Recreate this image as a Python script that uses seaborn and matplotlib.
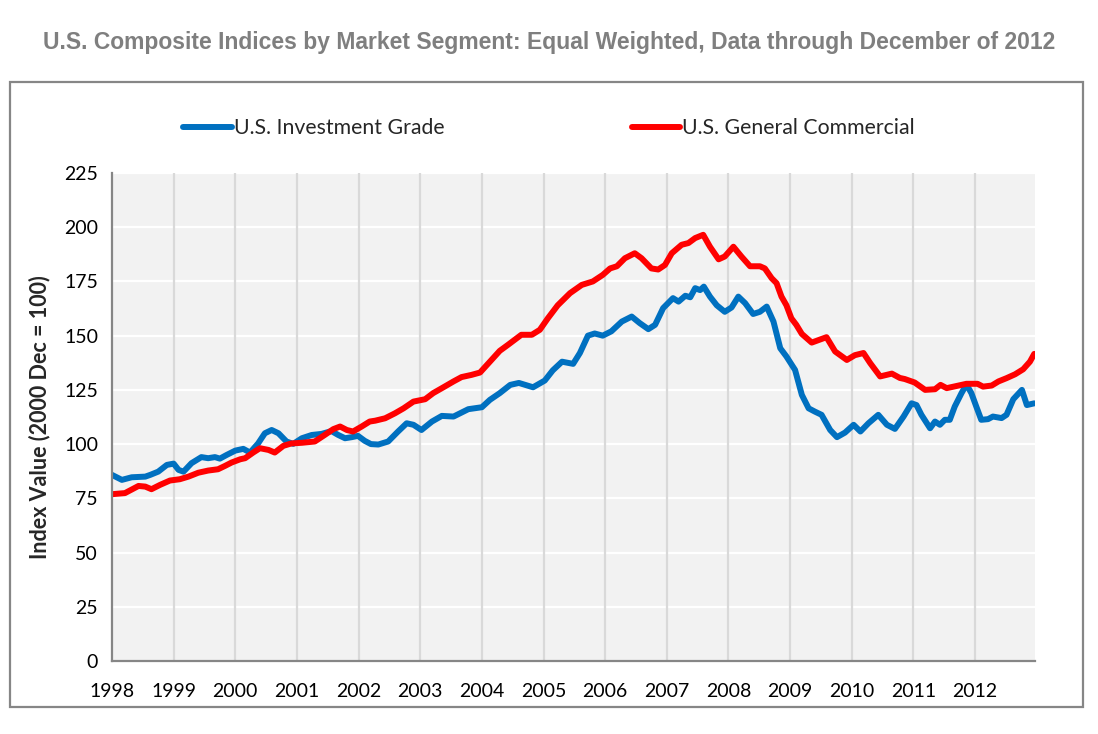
import numpy as np
import pandas as pd
import matplotlib
matplotlib.use("Agg")
import matplotlib.pyplot as plt
from matplotlib.patches import Rectangle
import seaborn as sns

# values (decimal year, index value)
ig_year = [1998.00, 1998.16, 1998.32, 1998.54, 1998.62, 1998.75, 1998.89, 1999.00, 1999.08, 1999.16,
           1999.29, 1999.45, 1999.56, 1999.67, 1999.75, 1999.86, 2000.00, 2000.13, 2000.24, 2000.37,
           2000.48, 2000.59, 2000.70, 2000.83, 2000.94, 2001.08, 2001.24, 2001.40, 2001.56, 2001.67,
           2001.78, 2001.89, 2001.99, 2002.10, 2002.20, 2002.32, 2002.48, 2002.64, 2002.78, 2002.89,
           2003.02, 2003.19, 2003.35, 2003.54, 2003.78, 2004.00, 2004.13, 2004.29, 2004.46, 2004.60,
           2004.83, 2005.02, 2005.15, 2005.30, 2005.48, 2005.59, 2005.72, 2005.83, 2005.96, 2006.10,
           2006.27, 2006.43, 2006.56, 2006.70, 2006.81, 2006.94, 2007.10, 2007.19, 2007.30, 2007.38,
           2007.46, 2007.54, 2007.60, 2007.70, 2007.81, 2007.94, 2008.05, 2008.16, 2008.27, 2008.40,
           2008.51, 2008.62, 2008.73, 2008.84, 2008.94, 2009.08, 2009.19, 2009.30, 2009.40, 2009.51,
           2009.65, 2009.76, 2009.89, 2010.03, 2010.14, 2010.27, 2010.43, 2010.57, 2010.70, 2010.84,
           2010.97, 2011.05, 2011.13, 2011.27, 2011.35, 2011.43, 2011.51, 2011.59, 2011.67, 2011.78,
           2011.86, 2011.94, 2012.02, 2012.10, 2012.21, 2012.29, 2012.43, 2012.51, 2012.62, 2012.76,
           2012.84, 2012.96]
ig_value = [85.8, 83.5, 84.7, 85.0, 85.8, 87.3, 90.4, 91.0, 88.1, 87.3,
            91.2, 94.0, 93.5, 94.0, 93.3, 95.0, 97.0, 97.8, 96.1, 100.3,
            105.0, 106.5, 105.0, 101.2, 100.1, 102.7, 104.2, 104.7, 106.0, 104.2,
            102.7, 103.2, 103.8, 101.5, 100.0, 99.8, 101.2, 105.8, 109.6, 108.9,
            106.5, 110.4, 113.0, 112.7, 116.1, 117.0, 120.4, 123.5, 127.3, 128.2,
            126.2, 129.3, 134.0, 138.0, 137.0, 142.0, 150.0, 151.0, 150.0, 152.0,
            156.5, 158.8, 155.8, 153.0, 155.0, 162.7, 167.3, 165.7, 168.4, 167.7,
            171.9, 171.0, 172.6, 168.0, 164.0, 161.0, 163.0, 168.0, 165.0, 160.0,
            161.0, 163.4, 156.5, 144.2, 140.4, 134.2, 122.7, 116.5, 115.0, 113.5,
            106.5, 103.2, 105.3, 108.9, 105.8, 109.6, 113.5, 108.9, 107.0, 112.7,
            118.8, 118.0, 113.5, 107.3, 110.4, 108.9, 111.2, 111.2, 117.3, 123.5,
            127.5, 123.5, 117.3, 111.2, 111.5, 112.7, 112.0, 113.5, 120.7, 125.0,
            118.0, 118.8]

gc_year = [1998.00, 1998.21, 1998.43, 1998.54, 1998.64, 1998.78, 1998.94, 1999.10, 1999.24, 1999.40,
           1999.56, 1999.72, 1999.83, 1999.94, 2000.08, 2000.16, 2000.29, 2000.40, 2000.54, 2000.64,
           2000.78, 2000.91, 2001.08, 2001.29, 2001.45, 2001.59, 2001.70, 2001.81, 2001.91, 2002.05,
           2002.18, 2002.27, 2002.43, 2002.59, 2002.73, 2002.89, 2003.08, 2003.21, 2003.37, 2003.54,
           2003.67, 2003.83, 2003.97, 2004.13, 2004.29, 2004.42, 2004.64, 2004.81, 2004.94, 2005.07,
           2005.23, 2005.43, 2005.62, 2005.80, 2005.96, 2006.08, 2006.19, 2006.32, 2006.48, 2006.59,
           2006.75, 2006.86, 2006.97, 2007.08, 2007.24, 2007.35, 2007.46, 2007.59, 2007.70, 2007.84,
           2007.94, 2008.08, 2008.21, 2008.35, 2008.51, 2008.59, 2008.70, 2008.78, 2008.86, 2008.94,
           2009.02, 2009.10, 2009.19, 2009.35, 2009.59, 2009.73, 2009.92, 2010.05, 2010.19, 2010.30,
           2010.46, 2010.65, 2010.78, 2010.86, 2011.02, 2011.19, 2011.35, 2011.44, 2011.54, 2011.70,
           2011.86, 2012.04, 2012.13, 2012.27, 2012.38, 2012.51, 2012.65, 2012.78, 2012.89, 2012.96]
gc_value = [76.9, 77.4, 80.7, 80.4, 79.2, 81.2, 83.2, 83.8, 85.0, 86.8,
            87.8, 88.4, 89.9, 91.5, 93.0, 93.5, 96.1, 98.1, 97.3, 96.1,
            99.2, 100.3, 100.6, 101.2, 104.2, 106.9, 108.1, 106.5, 105.8, 108.1,
            110.4, 110.8, 111.9, 114.2, 116.5, 119.6, 120.7, 123.5, 126.1, 128.9,
            130.9, 131.9, 133.0, 138.0, 143.0, 145.7, 150.4, 150.4, 152.7, 158.0,
            164.0, 169.6, 173.4, 175.0, 178.0, 181.0, 182.0, 185.7, 188.0, 185.7,
            181.0, 180.5, 182.6, 188.0, 191.9, 192.7, 195.0, 196.5, 191.0, 185.2,
            186.5, 191.0, 186.5, 182.0, 182.0, 181.0, 176.5, 174.2, 168.0, 164.0,
            158.0, 155.0, 150.8, 146.8, 149.3, 142.7, 138.8, 141.0, 142.0, 137.3,
            131.2, 132.5, 130.5, 130.0, 128.4, 125.0, 125.3, 127.3, 125.8, 126.8,
            127.8, 127.8, 126.5, 127.0, 128.9, 130.4, 132.2, 134.5, 138.0, 141.6]

series_names = ["U.S. Investment Grade", "U.S. General Commercial"]
series_colors = ["#0070C0", "#FF0000"]
year_ticks = list(range(1998, 2013))
y_ticks = [0, 25, 50, 75, 100, 125, 150, 175, 200, 225]

df = pd.concat([
    pd.DataFrame({"year": ig_year, "value": ig_value, "series": series_names[0]}),
    pd.DataFrame({"year": gc_year, "value": gc_value, "series": series_names[1]}),
], ignore_index=True)

sns.set_style("white")
plt.rcParams["font.family"] = ["Lato", "DejaVu Sans"]

fig = plt.figure(figsize=(10.98, 7.34), dpi=100)
ax = fig.add_axes([0.102, 0.0995, 0.8405, 0.6648])
ax.set_facecolor("#f2f2f2")

# outer chart border
fig.patches.append(Rectangle((0.0091, 0.0368), 0.9772, 0.8515, transform=fig.transFigure,
                             fill=False, edgecolor="#868686", linewidth=1.6))

sns.lineplot(data=df, x="year", y="value", hue="series", hue_order=series_names,
             palette=series_colors, linewidth=4.3, ax=ax, estimator=None, sort=True)

ax.set_xlim(1998, 2012.97)
ax.set_ylim(0, 225)
ax.set_xticks(year_ticks)
ax.set_xticklabels([str(y) for y in year_ticks])
ax.set_yticks(y_ticks)

ax.grid(False)
for y in y_ticks[1:]:
    ax.axhline(y, color="white", linewidth=1.6, zorder=0.5)
for x in year_ticks[1:]:
    ax.axvline(x, color="#d9d9d9", linewidth=1.6, zorder=0.6)

for side in ["top", "right"]:
    ax.spines[side].set_visible(False)
for side in ["left", "bottom"]:
    ax.spines[side].set_color("#868686")
    ax.spines[side].set_linewidth(1.6)

ax.tick_params(axis="both", direction="out", length=5, width=1.4, color="#868686",
               labelsize=14, labelcolor="black")
ax.tick_params(axis="x", pad=11)
ax.tick_params(axis="y", pad=5)
ax.set_xlabel("")
ax.set_ylabel("Index Value (2000 Dec = 100)", fontsize=15.5, fontweight="bold", labelpad=10)

fig.suptitle("U.S. Composite Indices by Market Segment: Equal Weighted, Data through December of 2012",
             x=0.5, y=0.958, fontsize=16.5, fontweight="bold", color="#7f7f7f",
             family=["Liberation Sans", "DejaVu Sans"])

ax.legend(loc="center", bbox_to_anchor=(0.5, 0.825), bbox_transform=fig.transFigure,
          ncol=2, frameon=False, fontsize=15.3, handlelength=2.3, handletextpad=0.1,
          columnspacing=8.8)

plt.savefig("out.png", dpi=100)
plt.close()
